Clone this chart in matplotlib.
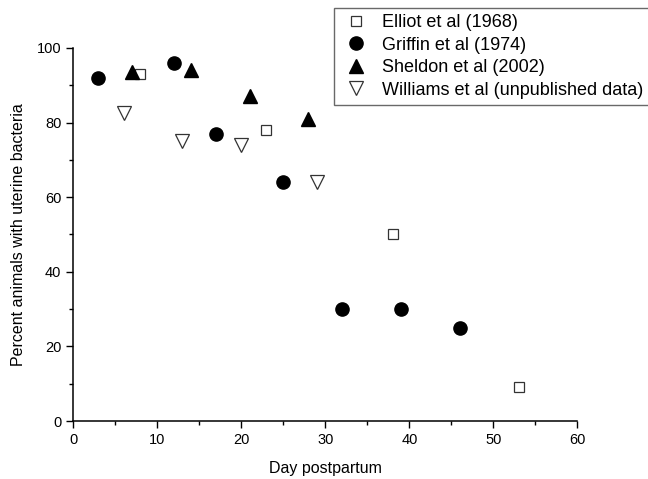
import matplotlib; matplotlib.use("Agg")
import matplotlib.pyplot as plt
from matplotlib.ticker import MultipleLocator

plt.rcParams.update({"font.family": ["Liberation Sans", "DejaVu Sans"], "font.size": 9})

# data
elliot_x = [8, 23, 38, 53]
elliot_y = [93, 78, 50, 9]
griffin_x = [3, 12, 17, 25, 32, 39, 46]
griffin_y = [92, 96, 77, 64, 30, 30, 25]
sheldon_x = [7, 14, 21, 28]
sheldon_y = [93.5, 94, 87, 81]
williams_x = [6, 13, 20, 29]
williams_y = [82.5, 75, 74, 64]

fig = plt.figure(figsize=(6.48, 4.79), dpi=100)
ax = fig.add_axes([0.113, 0.121, 0.778, 0.779])

ax.plot(elliot_x, elliot_y, "s", ms=7.5, mfc="white", mec="#333333", mew=0.9, ls="none", label="Elliot et al (1968)")
ax.plot(griffin_x, griffin_y, "o", ms=9.5, color="black", ls="none", label="Griffin et al (1974)")
ax.plot(sheldon_x, sheldon_y, "^", ms=9.5, color="black", ls="none", label="Sheldon et al (2002)")
ax.plot(williams_x, williams_y, "v", ms=9.5, mfc="white", mec="#333333", mew=0.9, ls="none", label="Williams et al (unpublished data)")

ax.set_xlim(0, 60); ax.set_ylim(0, 100)
ax.xaxis.set_major_locator(MultipleLocator(10)); ax.xaxis.set_minor_locator(MultipleLocator(5))
ax.yaxis.set_major_locator(MultipleLocator(20)); ax.yaxis.set_minor_locator(MultipleLocator(10))
ax.tick_params(which="major", length=5, width=1, labelsize=10.5)
ax.tick_params(which="minor", length=3, width=1)
for s in ["top", "right"]:
    ax.spines[s].set_visible(False)
for s in ["left", "bottom"]:
    ax.spines[s].set_linewidth(1.1)
ax.set_xlabel("Day postpartum", fontsize=11.5, labelpad=10)
ax.set_ylabel("Percent animals with uterine bacteria", fontsize=11.5, labelpad=8)

leg = fig.legend(loc="upper left", bbox_to_anchor=(334/648, 1 - 8/479), fontsize=13,
                 frameon=True, fancybox=False, edgecolor="#444444", borderpad=0.35,
                 labelspacing=0.3, handletextpad=0.6, handlelength=1.7, borderaxespad=0)
leg.get_frame().set_linewidth(1.0)

fig.savefig("out.png", dpi=100)
